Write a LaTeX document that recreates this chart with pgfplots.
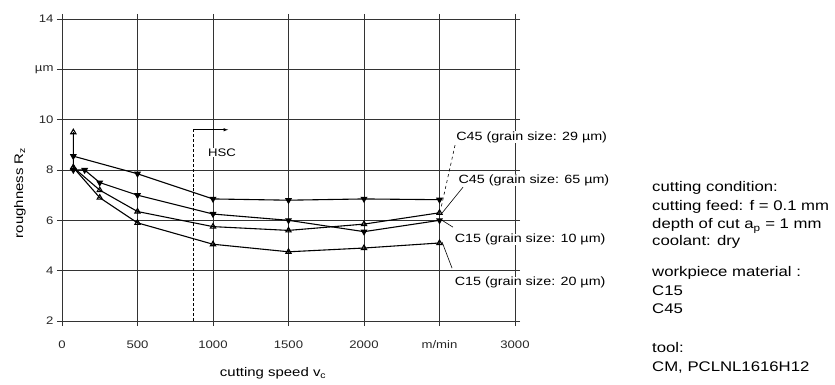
\documentclass[border=0pt]{standalone}
\usepackage{pgfplots}
\pgfplotsset{compat=1.18}
\usepackage{fontspec}
\setmainfont{Liberation Sans}[FakeStretch=1.2]
\begin{document}
\begin{tikzpicture}
\useasboundingbox (-62bp,-64bp) rectangle (773bp,321bp);
\begin{axis}[
  scale only axis, width=453bp, height=302bp,
  xmin=0, xmax=3000, ymin=2, ymax=14,
  xtick={0,500,1000,1500,2000,2500,3000},
  xticklabels={0,500,1000,1500,2000,m/min,3000},
  ytick={2,4,6,8,10,12,14},
  yticklabels={2,4,6,8,10,µm,14},
  grid=major, grid style={black!80, line width=0.6pt},
  axis line style={black!80, line width=0.6pt},
  tick style={black!80, line width=0.6pt},
  tick align=outside, major tick length=5bp,
  ticklabel style={font=\fontsize{11}{12}\selectfont, text=black!85},
  xticklabel style={yshift=-11bp},
  /pgf/number format/assume math mode=true,
  xlabel={cutting speed v\textsubscript{c}},
  ylabel={roughness R\textsubscript{z}},
  xlabel style={font=\fontsize{12.5}{14}\selectfont, at={(rel axis cs:0.466,0)}, anchor=center, yshift=-52bp},
  ylabel style={font=\fontsize{12.5}{14}\selectfont, at={(rel axis cs:0,0.424)}, anchor=center, yshift=42bp},
  clip=false,
  every axis plot/.append style={black, line width=1.1pt},
]
% C45 grain size 29 um
\addplot[mark=triangle*, mark options={rotate=180, scale=1.5, fill=black}] coordinates {
 (75,8.55) (500,7.85) (1000,6.85) (1500,6.8) (2000,6.85) (2500,6.82)};
% C45 grain size 65 um
\addplot[mark=triangle*, mark options={rotate=180, scale=1.5, fill=black}] coordinates {
 (75,8.0) (150,8.0) (250,7.5) (500,7.0) (1000,6.25) (1500,6.0) (2000,5.55) (2500,6.0)};
% C15 grain size 10 um
\addplot[mark=triangle, mark options={scale=1.5, fill=white}] coordinates {
 (75,8.1) (250,7.2) (500,6.35) (1000,5.75) (1500,5.6) (2000,5.85) (2500,6.3)};
% C15 grain size 20 um
\addplot[mark=triangle, mark options={scale=1.5, fill=white}] coordinates {
 (75,9.5) (75,8.1) (250,6.9) (500,5.9) (1000,5.05) (1500,4.75) (2000,4.9) (2500,5.1)};
% HSC marker
\draw[densely dashed, line width=0.6pt] (axis cs:868,2) -- (axis cs:868,9.6);
\draw[-latex, line width=0.6pt] (axis cs:868,9.6) -- (axis cs:1100,9.6);
\node[fill=white, inner sep=1pt, font=\fontsize{11}{12}\selectfont] at (axis cs:1060,8.7) {HSC};
% series labels
\draw[dashed, line width=0.6pt] (axis cs:2603,8.99) -- (axis cs:2510,6.49);
\draw[line width=0.6pt] (axis cs:2656,7.32) -- (axis cs:2517,6.29);
\draw[line width=0.6pt] (axis cs:2589,5.73) -- (axis cs:2517,6.0);
\draw[line width=0.6pt] (axis cs:2583,4.1) -- (axis cs:2517,5.14);
\begin{scope}[every node/.style={anchor=west, inner sep=0pt, font=\fontsize{12}{13}\selectfont, fill=white}]
\node at (axis cs:2610,9.31) {C45 (grain size: 29 µm)};
\node at (axis cs:2625,7.60) {C45 (grain size: 65 µm)};
\node at (axis cs:2600,5.25) {C15 (grain size: 10 µm)};
\node at (axis cs:2600,3.53) {C15 (grain size: 20 µm)};
\end{scope}
\end{axis}
\begin{scope}[every node/.style={anchor=base west, inner sep=0pt, font=\fontsize{14}{16}\selectfont}]
\node at (590bp,129bp) {cutting condition:};
\node at (590bp,110bp) {cutting feed: f = 0.1 mm};
\node at (590bp,92bp) {depth of cut a\textsubscript{p} = 1 mm};
\node at (590bp,75bp) {coolant: dry};
\node at (590bp,44bp) {workpiece material :};
\node at (590bp,26bp) {C15};
\node at (590bp,8bp) {C45};
\node at (590bp,-31bp) {tool:};
\node at (590bp,-50bp) {CM, PCLNL1616H12};
\end{scope}
\end{tikzpicture}
\end{document}
